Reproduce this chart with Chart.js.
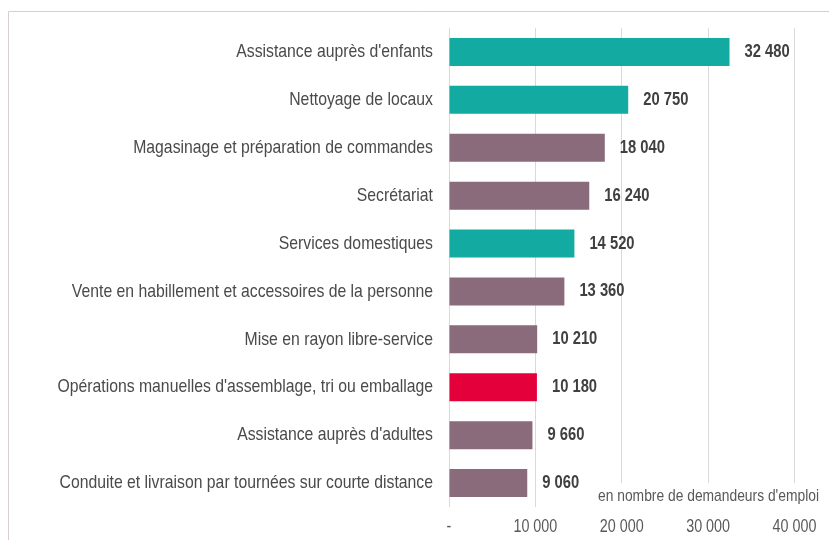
<!DOCTYPE html>
<html><head><meta charset="utf-8">
<script src="https://cdn.jsdelivr.net/npm/chart.js@4/dist/chart.umd.min.js"></script>
<style>html,body{margin:0;padding:0;background:#fff;}#wrap{position:relative;width:829px;height:540px;}</style>
</head><body><div id="wrap"><canvas id="c" width="829" height="540"></canvas></div>
<script>
const categories = [
  "Assistance auprès d'enfants",
  "Nettoyage de locaux",
  "Magasinage et préparation de commandes",
  "Secrétariat",
  "Services domestiques",
  "Vente en habillement et accessoires de la personne",
  "Mise en rayon libre-service",
  "Opérations manuelles d'assemblage, tri ou emballage",
  "Assistance auprès d'adultes",
  "Conduite et livraison par tournées sur courte distance"
];
const values = [32480, 20750, 18040, 16240, 14520, 13360, 10210, 10180, 9660, 9060];
const groups = ["teal","teal","mauve","mauve","teal","mauve","mauve","red","mauve","mauve"];
const tickValues = [0, 10000, 20000, 30000, 40000];
const unitLabel = "en nombre de demandeurs d'emploi";

const palette = {teal:'#12aaa1', mauve:'#8a6b7b', red:'#e4003b'};
const FONT = "'Liberation Sans', Arial, sans-serif";
const NARROW = 0.82;
function fmt(v){ return v === 0 ? '-' : String(v).replace(/\B(?=(\d{3})+(?!\d))/g, ' '); }

function narrowText(ctx, text, x, y, font, color, align, sx){
  ctx.save();
  ctx.font = font;
  ctx.fillStyle = color;
  ctx.textBaseline = 'middle';
  ctx.textAlign = align;
  ctx.translate(x, y);
  ctx.scale(sx, 1);
  ctx.fillText(text, 0, 0);
  ctx.restore();
}

const extras = {
  id: 'extras',
  beforeDraw(chart){
    const ctx = chart.ctx;
    ctx.save();
    ctx.fillStyle = '#fff';
    ctx.fillRect(0,0,chart.width,chart.height);
    ctx.strokeStyle = '#dacdd1';
    ctx.lineWidth = 1;
    ctx.beginPath();
    ctx.moveTo(8.5, 540); ctx.lineTo(8.5, 11.5); ctx.lineTo(829, 11.5);
    ctx.stroke();
    ctx.restore();
  },
  afterDatasetsDraw(chart){
    const ctx = chart.ctx;
    const meta = chart.getDatasetMeta(0);
    const xs = chart.scales.x, ys = chart.scales.y;
    const ca = chart.chartArea;
    meta.data.forEach((bar, i) => {
      narrowText(ctx, fmt(values[i]), bar.x + 15, bar.y, "bold 18px " + FONT, '#404040', 'left', NARROW);
    });
    categories.forEach((c, i) => {
      narrowText(ctx, c, ca.left - 16, ys.getPixelForTick(i), "19px " + FONT, '#4a4a4a', 'right', 0.83);
    });
    tickValues.forEach(v => {
      narrowText(ctx, fmt(v), xs.getPixelForValue(v), 527, "17.5px " + FONT, '#595959', 'center', NARROW);
    });
    ctx.save();
    ctx.fillStyle = '#fff';
    ctx.fillRect(596, 483, 233, ca.bottom - 483);
    ctx.font = "17px " + FONT;
    const w = ctx.measureText(unitLabel).width;
    ctx.restore();
    narrowText(ctx, unitLabel, 598, 496, "17px " + FONT, '#595959', 'left', 221 / w);
  }
};

new Chart(document.getElementById('c'), {
  type: 'bar',
  data: {
    labels: categories,
    datasets: [{
      data: values,
      backgroundColor: groups.map(g => palette[g]),
      borderWidth: 0,
      barPercentage: 0.585,
      categoryPercentage: 1
    }]
  },
  options: {
    indexAxis: 'y',
    responsive: false,
    animation: false,
    layout: {padding: {top: 28, right: 0, bottom: 0, left: 0}},
    plugins: {legend: {display: false}, tooltip: {enabled: false}},
    scales: {
      x: {
        min: 0, max: 44000,
        afterBuildTicks(scale){ scale.ticks = tickValues.map(v => ({value: v})); },
        afterFit(scale){ scale.height = 33; },
        grid: {color: '#d9d9d9', lineWidth: 1, drawTicks: false},
        border: {display: false},
        ticks: {display: false, callback: v => fmt(v)}
      },
      y: {
        afterFit(scale){ scale.width = 449; },
        grid: {display: false, drawTicks: false},
        border: {display: false},
        ticks: {display: false}
      }
    }
  },
  plugins: [extras]
});
</script></body></html>
